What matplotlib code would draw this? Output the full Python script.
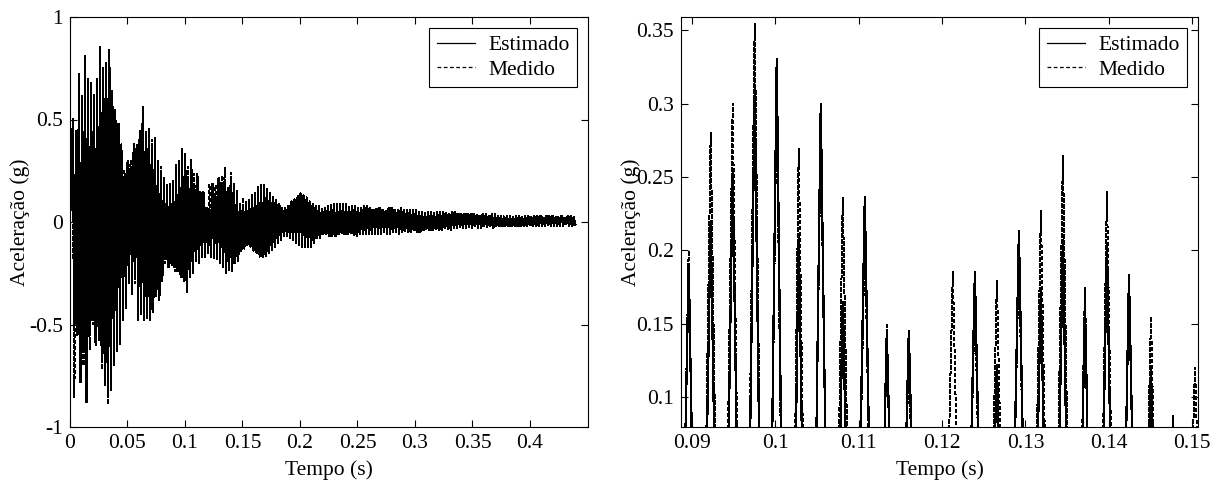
import numpy as np
import matplotlib
matplotlib.use("Agg")
import matplotlib.pyplot as plt
from matplotlib.ticker import FormatStrFormatter

# Sinal de aceleracao: picos positivos e negativos de cada ciclo
T0 = 0.0025        # instante do primeiro pico positivo (s)
PERIODO = 0.00264  # periodo de oscilacao (s)

est_pos = [
    0.50, 0.40, 0.72, 0.58, 0.81, 0.62, 0.66, 0.55, 0.64, 0.70,
    0.75, 0.72, 0.84, 0.60, 0.50, 0.48, 0.35, 0.22, 0.28, 0.26,
    0.34, 0.36, 0.42, 0.52, 0.40, 0.44, 0.38, 0.36, 0.28, 0.25,
    0.20, 0.17, 0.18, 0.19, 0.22, 0.255, 0.31, 0.33, 0.21, 0.30,
    0.165, 0.236, 0.145, 0.145, 0.07, 0.06, 0.185, 0.122, 0.213, 0.173,
    0.207, 0.165, 0.204, 0.183, 0.12, 0.087, 0.07, 0.09, 0.10, 0.12,
    0.14, 0.17, 0.16, 0.18, 0.15, 0.13, 0.12, 0.10, 0.09, 0.06,
    0.06, 0.08, 0.10, 0.11, 0.12, 0.14, 0.13, 0.11, 0.10, 0.09,
    0.08, 0.07, 0.06, 0.07, 0.08, 0.08, 0.09, 0.08, 0.09, 0.085,
    0.08, 0.07, 0.08, 0.07, 0.06, 0.07, 0.08, 0.07, 0.06, 0.06,
    0.06, 0.07, 0.06, 0.05, 0.06, 0.07, 0.06, 0.05, 0.06, 0.06,
    0.05, 0.06, 0.05, 0.06, 0.05, 0.05, 0.04, 0.05, 0.05, 0.04,
    0.05, 0.04, 0.05, 0.04, 0.04, 0.05, 0.04, 0.04, 0.03, 0.04,
    0.04, 0.03, 0.04, 0.03, 0.03, 0.04, 0.03, 0.03, 0.04, 0.03,
    0.03, 0.03, 0.02, 0.03, 0.03, 0.02, 0.03, 0.03, 0.02, 0.03,
    0.03, 0.02, 0.03, 0.02, 0.03, 0.02, 0.03, 0.02, 0.03, 0.02,
    0.02, 0.03, 0.02, 0.02, 0.03, 0.02,
]
est_neg = [
    -0.50, -0.55, -0.78, -0.62, -0.88, -0.55, -0.48, -0.60, -0.55, -0.68,
    -0.76, -0.85, -0.82, -0.66, -0.63, -0.52, -0.45, -0.38, -0.28, -0.33,
    -0.28, -0.45, -0.42, -0.46, -0.44, -0.48, -0.40, -0.34, -0.36, -0.26,
    -0.18, -0.22, -0.20, -0.22, -0.24, -0.26, -0.29, -0.32, -0.27, -0.25,
    -0.19, -0.20, -0.17, -0.16, -0.15, -0.17, -0.17, -0.18, -0.19, -0.22,
    -0.25, -0.22, -0.24, -0.19, -0.17, -0.14, -0.12, -0.11, -0.12, -0.14,
    -0.15, -0.16, -0.17, -0.16, -0.15, -0.13, -0.12, -0.10, -0.09, -0.07,
    -0.07, -0.08, -0.09, -0.10, -0.11, -0.12, -0.12, -0.11, -0.12, -0.10,
    -0.08, -0.07, -0.06, -0.06, -0.07, -0.06, -0.07, -0.06, -0.05, -0.06,
    -0.06, -0.05, -0.06, -0.07, -0.06, -0.05, -0.06, -0.05, -0.06, -0.05,
    -0.05, -0.06, -0.05, -0.05, -0.06, -0.05, -0.04, -0.05, -0.05, -0.04,
    -0.05, -0.04, -0.04, -0.05, -0.04, -0.04, -0.03, -0.04, -0.04, -0.03,
    -0.03, -0.04, -0.03, -0.03, -0.04, -0.03, -0.03, -0.02, -0.03, -0.03,
    -0.02, -0.03, -0.02, -0.02, -0.03, -0.02, -0.02, -0.02, -0.03, -0.02,
    -0.02, -0.02, -0.01, -0.02, -0.02, -0.01, -0.02, -0.02, -0.01, -0.02,
    -0.01, -0.02, -0.01, -0.02, -0.01, -0.02, -0.01, -0.02, -0.01, -0.02,
    -0.01, -0.02, -0.01, -0.01, -0.02, -0.01,
]
med_pos = [
    0.30, 0.45, 0.66, 0.62, 0.72, 0.70, 0.68, 0.62, 0.70, 0.86,
    0.70, 0.78, 0.76, 0.64, 0.55, 0.44, 0.38, 0.25, 0.30, 0.30,
    0.38, 0.38, 0.45, 0.56, 0.44, 0.46, 0.40, 0.41, 0.30, 0.27,
    0.22, 0.18, 0.19, 0.20, 0.28, 0.30, 0.355, 0.31, 0.27, 0.285,
    0.236, 0.215, 0.149, 0.13, 0.07, 0.185, 0.17, 0.18, 0.20, 0.227,
    0.265, 0.175, 0.24, 0.178, 0.155, 0.07, 0.12, 0.10, 0.11, 0.13,
    0.15, 0.15, 0.18, 0.17, 0.16, 0.14, 0.11, 0.11, 0.08, 0.07,
    0.07, 0.07, 0.09, 0.11, 0.13, 0.13, 0.12, 0.12, 0.09, 0.08,
    0.07, 0.08, 0.07, 0.06, 0.07, 0.09, 0.08, 0.09, 0.08, 0.09,
    0.09, 0.08, 0.07, 0.08, 0.07, 0.06, 0.07, 0.08, 0.07, 0.06,
    0.07, 0.06, 0.05, 0.06, 0.07, 0.06, 0.05, 0.06, 0.07, 0.05,
    0.06, 0.05, 0.06, 0.05, 0.05, 0.04, 0.05, 0.05, 0.04, 0.05,
    0.04, 0.05, 0.04, 0.05, 0.04, 0.04, 0.05, 0.03, 0.04, 0.04,
    0.03, 0.04, 0.03, 0.04, 0.03, 0.03, 0.04, 0.03, 0.03, 0.04,
    0.03, 0.02, 0.03, 0.03, 0.02, 0.03, 0.03, 0.02, 0.03, 0.02,
    0.02, 0.03, 0.02, 0.03, 0.02, 0.03, 0.02, 0.03, 0.02, 0.03,
    0.03, 0.02, 0.02, 0.03, 0.02, 0.03,
]
med_neg = [
    -0.86, -0.50, -0.72, -0.70, -0.80, -0.62, -0.50, -0.56, -0.58, -0.72,
    -0.80, -0.89, -0.78, -0.70, -0.58, -0.60, -0.48, -0.42, -0.30, -0.35,
    -0.30, -0.48, -0.45, -0.48, -0.47, -0.44, -0.44, -0.36, -0.38, -0.29,
    -0.20, -0.20, -0.21, -0.24, -0.23, -0.27, -0.28, -0.34, -0.26, -0.24,
    -0.18, -0.19, -0.16, -0.17, -0.14, -0.16, -0.18, -0.17, -0.20, -0.21,
    -0.23, -0.24, -0.22, -0.20, -0.19, -0.13, -0.13, -0.12, -0.11, -0.13,
    -0.14, -0.17, -0.16, -0.17, -0.14, -0.14, -0.11, -0.10, -0.08, -0.06,
    -0.06, -0.07, -0.09, -0.11, -0.10, -0.12, -0.11, -0.12, -0.11, -0.09,
    -0.07, -0.08, -0.06, -0.05, -0.06, -0.07, -0.06, -0.06, -0.06, -0.05,
    -0.05, -0.06, -0.07, -0.06, -0.05, -0.06, -0.05, -0.06, -0.05, -0.06,
    -0.06, -0.05, -0.05, -0.06, -0.05, -0.04, -0.05, -0.06, -0.04, -0.05,
    -0.04, -0.05, -0.04, -0.04, -0.05, -0.03, -0.04, -0.04, -0.03, -0.04,
    -0.04, -0.03, -0.03, -0.04, -0.03, -0.03, -0.02, -0.03, -0.03, -0.02,
    -0.03, -0.02, -0.02, -0.03, -0.02, -0.02, -0.03, -0.02, -0.02, -0.02,
    -0.02, -0.01, -0.02, -0.02, -0.01, -0.02, -0.02, -0.01, -0.02, -0.02,
    -0.02, -0.01, -0.02, -0.01, -0.02, -0.01, -0.02, -0.01, -0.02, -0.01,
    -0.02, -0.01, -0.01, -0.02, -0.01, -0.02,
]

xticks_esq = [0, 0.05, 0.1, 0.15, 0.2, 0.25, 0.3, 0.35, 0.4]
yticks_esq = [-1, -0.5, 0, 0.5, 1]
xticks_dir = [0.09, 0.1, 0.11, 0.12, 0.13, 0.14, 0.15]
yticks_dir = [0.1, 0.15, 0.2, 0.25, 0.3, 0.35]


def serie(pos, neg):
    # intercala picos positivos e negativos no tempo, comecando em zero
    t_pos = T0 + PERIODO * np.arange(len(pos))
    t = np.column_stack((t_pos, t_pos + PERIODO / 2)).ravel()
    y = np.column_stack((pos, neg)).ravel()
    return np.concatenate(([0.0], t)), np.concatenate(([0.0], y))


plt.rcParams["font.family"] = ["Liberation Serif", "DejaVu Serif"]
plt.rcParams["axes.unicode_minus"] = False
plt.rcParams["font.size"] = 15.5

t_est, y_est = serie(est_pos, est_neg)
t_med, y_med = serie(med_pos, med_neg)

fig = plt.figure(figsize=(12.18, 4.82), dpi=100)
ax1 = fig.add_axes([70 / 1218, 55 / 482, 518 / 1218, 410 / 482])
ax2 = fig.add_axes([681 / 1218, 55 / 482, 517 / 1218, 410 / 482])

for ax in (ax1, ax2):
    ax.plot(t_est, y_est, color="black", lw=0.9, antialiased=False, label="Estimado")
    ax.plot(t_med, y_med, color="black", lw=0.9, antialiased=False,
            linestyle=(0, (3, 2)), label="Medido")
    ax.set_xlabel("Tempo (s)", fontsize=15.5)
    ax.set_ylabel("Aceleração (g)", fontsize=15.5)
    ax.yaxis.set_label_coords(-0.078, 0.5)
    ax.xaxis.set_label_coords(0.5, -0.08)
    ax.tick_params(direction="in", top=True, right=True, length=5, width=0.8, pad=5)
    for s in ax.spines.values():
        s.set_linewidth(0.8)
    leg = ax.legend(loc="upper right", fontsize=15.5, frameon=True, fancybox=False,
                    edgecolor="black", framealpha=1, handlelength=1.8,
                    handletextpad=0.6, borderaxespad=0.5, borderpad=0.35,
                    labelspacing=0.2)
    leg.get_frame().set_linewidth(0.8)

ax1.set_xlim(0, 0.4505)
ax1.set_ylim(-1, 1)
ax1.set_xticks(xticks_esq)
ax1.set_yticks(yticks_esq)
ax1.xaxis.set_major_formatter(FormatStrFormatter("%g"))
ax1.yaxis.set_major_formatter(FormatStrFormatter("%g"))

ax2.set_xlim(0.0887, 0.1507)
ax2.set_ylim(0.0795, 0.359)
ax2.set_xticks(xticks_dir)
ax2.set_yticks(yticks_dir)
ax2.xaxis.set_major_formatter(FormatStrFormatter("%g"))
ax2.yaxis.set_major_formatter(FormatStrFormatter("%g"))

fig.savefig("out.png", dpi=100)
plt.close(fig)
